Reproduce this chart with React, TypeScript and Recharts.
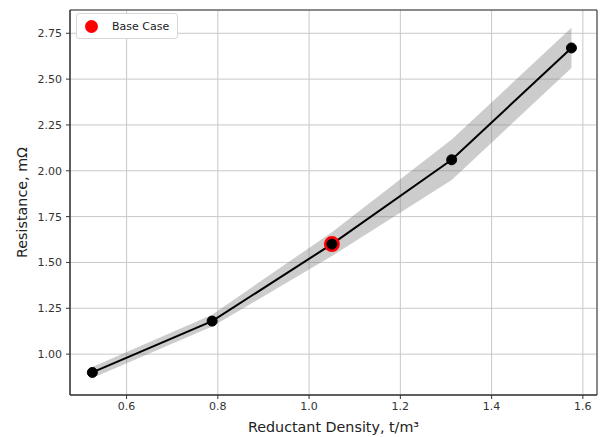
import {
  ComposedChart,
  Area,
  Line,
  Scatter,
  XAxis,
  YAxis,
  CartesianGrid,
  ReferenceArea,
  Legend,
} from 'recharts';

const density = [0.525, 0.7875, 1.05, 1.3125, 1.575];
const resistance = [0.9, 1.18, 1.6, 2.06, 2.67];
const lower = [0.87, 1.15, 1.535, 1.95, 2.56];
const upper = [0.93, 1.215, 1.665, 2.17, 2.78];
const baseCase = [{ x: 1.05, y: 1.6 }];

const xTicks = [0.6, 0.8, 1.0, 1.2, 1.4, 1.6];
const yTicks = [1.0, 1.25, 1.5, 1.75, 2.0, 2.25, 2.5, 2.75];
const xDomain: [number, number] = [0.476, 1.631];
const yDomain: [number, number] = [0.777, 2.877];

const data = density.map((x, i) => ({
  x,
  y: resistance[i],
  band: [lower[i], upper[i]],
}));

const font = 'DejaVu Sans, sans-serif';
const tickStyle = { fill: '#333', fontSize: 11, fontFamily: font };

function LegendBox() {
  return (
    <div
      style={{
        width: 100,
        height: 24,
        background: '#fff',
        border: '1px solid #d8d8d8',
        borderRadius: 3,
        display: 'flex',
        alignItems: 'center',
        fontFamily: font,
        fontSize: 11,
        color: '#222',
      }}
    >
      <span
        style={{
          width: 13,
          height: 13,
          borderRadius: '50%',
          background: '#ff0000',
          marginLeft: 8,
          marginRight: 14,
        }}
      />
      <span>Base Case</span>
    </div>
  );
}

export default function App() {
  return (
    <div style={{ position: 'absolute', left: 0, top: 0, background: '#fff' }}>
      <ComposedChart
        width={601}
        height={437}
        data={data}
        margin={{ top: 10, right: 4, left: 0, bottom: 0 }}
      >
        <CartesianGrid stroke="#c8c8c8" strokeWidth={1} />
        <XAxis
          dataKey="x"
          type="number"
          domain={xDomain}
          ticks={xTicks}
          tickFormatter={(v: number) => v.toFixed(1)}
          allowDataOverflow
          height={42}
          tick={tickStyle}
          tickSize={4}
          tickMargin={3}
          stroke="#333"
          label={{
            value: 'Reductant Density, t/m³',
            position: 'insideBottom',
            offset: 5,
            style: { fill: '#222', fontSize: 14.3, fontFamily: font },
          }}
        />
        <YAxis
          type="number"
          domain={yDomain}
          ticks={yTicks}
          tickFormatter={(v: number) => v.toFixed(2)}
          allowDataOverflow
          width={70}
          tick={tickStyle}
          tickSize={4}
          tickMargin={4}
          stroke="#333"
          label={{
            value: 'Resistance, mΩ',
            angle: -90,
            position: 'insideLeft',
            offset: 22,
            style: { fill: '#222', fontSize: 14.3, fontFamily: font, textAnchor: 'middle' },
          }}
        />
        <Legend
          layout="vertical"
          align="center"
          verticalAlign="middle"
          wrapperStyle={{ top: 13, left: 76, width: 'auto' }}
          content={() => <LegendBox />}
        />
        <Area
          dataKey="band"
          type="linear"
          stroke="none"
          fill="#808080"
          fillOpacity={0.4}
          isAnimationActive={false}
          legendType="none"
        />
        <Scatter
          data={baseCase}
          dataKey="y"
          fill="#ff0000"
          isAnimationActive={false}
          shape={(p: any) => <circle cx={p.cx} cy={p.cy} r={8} fill="#ff0000" />}
        />
        <Line
          dataKey="y"
          type="linear"
          stroke="#000"
          strokeWidth={2}
          dot={{ r: 5, fill: '#000', stroke: '#000', strokeWidth: 1 }}
          activeDot={false}
          isAnimationActive={false}
          legendType="none"
        />
        <ReferenceArea
          x1={xDomain[0]}
          x2={xDomain[1]}
          y1={yDomain[0]}
          y2={yDomain[1]}
          fill="none"
          stroke="#333"
          strokeWidth={1}
          ifOverflow="visible"
        />
      </ComposedChart>
    </div>
  );
}
